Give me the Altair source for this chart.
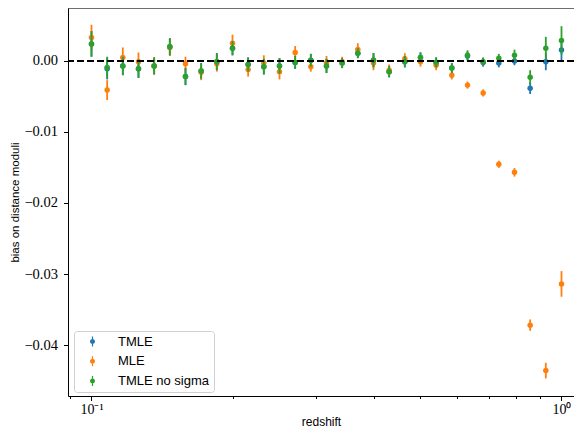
import altair as alt
import pandas as pd

# redshift bins (log-spaced)
redshift = [0.1, 0.10798, 0.11659, 0.12589, 0.13594, 0.14678, 0.15849, 0.17113,
            0.18478, 0.19953, 0.21544, 0.23263, 0.25119, 0.27123, 0.29286, 0.31623,
            0.34145, 0.36869, 0.39811, 0.42987, 0.46416, 0.50119, 0.54117, 0.58434,
            0.63096, 0.68129, 0.73564, 0.79433, 0.85770, 0.92611, 1.0]

tmle = [0.0024, -0.0011, -0.0007, -0.0011, -0.0007, 0.0020, -0.0022, -0.0014,
        -0.0001, 0.0018, -0.0005, -0.0008, -0.0007, -0.0002, 0.0001, -0.0007,
        -0.0003, 0.0011, 0.0001, -0.0015, -0.0001, 0.0005, -0.0002, -0.0010,
        0.0007, -0.0002, -0.0003, 0.0000, -0.00385, -0.0001, 0.00155]
tmle_err = [0.0018, 0.0015, 0.0013, 0.0013, 0.0012, 0.0012, 0.0012, 0.0011,
            0.0012, 0.0010, 0.0010, 0.0011, 0.0011, 0.0009, 0.0009, 0.0010,
            0.0007, 0.0007, 0.0010, 0.0008, 0.0008, 0.0007, 0.0007, 0.0007,
            0.0006, 0.0006, 0.0006, 0.0006, 0.0008, 0.0012, 0.0016]

mle = [0.0033, -0.0041, 0.0005, -0.0001, -0.0007, 0.0019, -0.0004, -0.0016,
       -0.0004, 0.0025, -0.0012, -0.0003, -0.0015, 0.0012, -0.0008, -0.0003,
       -0.0001, 0.0016, -0.0003, -0.0013, 0.0003, -0.0001, -0.0006, -0.0020,
       -0.0034, -0.0045, -0.01455, -0.01568, -0.0372, -0.0436, -0.0314]
mle_err = [0.0018, 0.0014, 0.0014, 0.0013, 0.0012, 0.0012, 0.0010, 0.0011,
           0.0011, 0.0012, 0.0010, 0.0011, 0.0011, 0.0009, 0.0007, 0.0010,
           0.0007, 0.0009, 0.0010, 0.0008, 0.0008, 0.0007, 0.0007, 0.0006,
           0.0005, 0.0005, 0.0005, 0.0006, 0.0008, 0.0011, 0.0018]

nosig = [0.0024, -0.0009, -0.0007, -0.0011, -0.0007, 0.0020, -0.0022, -0.0014,
         -0.0001, 0.0018, -0.0005, -0.0008, -0.0007, -0.0002, 0.0001, -0.0007,
         -0.0003, 0.0011, 0.0001, -0.0015, -0.0001, 0.0005, -0.0002, -0.0010,
         0.0008, -0.0001, 0.0004, 0.0008, -0.0023, 0.0018, 0.0029]
nosig_err = [0.0018, 0.0015, 0.0013, 0.0013, 0.0012, 0.0012, 0.0012, 0.0011,
             0.0012, 0.0010, 0.0010, 0.0011, 0.0011, 0.0009, 0.0009, 0.0010,
             0.0007, 0.0007, 0.0010, 0.0008, 0.0008, 0.0007, 0.0007, 0.0007,
             0.0007, 0.0006, 0.0006, 0.0008, 0.0010, 0.0016, 0.0020]

series_names = ["TMLE", "MLE", "TMLE no sigma"]
colors = ["#1f77b4", "#ff7f0e", "#2ca02c"]

x_ticks = [0.09, 0.1, 0.2, 0.3, 0.4, 0.5, 0.6, 0.7, 0.8, 0.9, 1.0]
y_ticks = [0.0, -0.01, -0.02, -0.03, -0.04]

rows = []
for name, vals, errs in zip(series_names, [tmle, mle, nosig], [tmle_err, mle_err, nosig_err]):
    for z, v, e in zip(redshift, vals, errs):
        rows.append({"series": name, "z": z, "bias": v, "lo": v - e, "hi": v + e})
df = pd.DataFrame(rows)

W, H = 506, 388
xscale = alt.Scale(type="log", domain=[0.08913, 1.0632], nice=False)
yscale = alt.Scale(domain=[-0.04718, 0.00746], nice=False, zero=False)

serif = "Liberation Serif"
sans = "Liberation Sans"

xaxis = alt.Axis(
    values=x_ticks,
    labelExpr="datum.value == 0.1 ? '10⁻¹' : (datum.value == 1 ? '10⁰' : '')",
    tickSize={"condition": {"test": "datum.value == 0.1 || datum.value == 1", "value": 4.5}, "value": 2.5},
    labelFont=serif, labelFontSize=14, labelPadding=2, labelColor="black",
    title="redshift", titleFont=sans, titleFontSize=12, titleFontWeight="normal",
    titleY=29.5, titleBaseline="alphabetic", titleColor="black",
    grid=False, domainColor="black", tickColor="black", labelFlush=False,
)
yaxis = alt.Axis(
    values=y_ticks,
    labelExpr="replace(format(datum.value, '.2f'), '-', '−')",
    tickSize=4.5, labelFont=serif, labelFontSize=14.5, labelPadding=6, labelColor="black",
    title="bias on distance moduli", titleFont=sans, titleFontSize=11.5,
    titleFontWeight="normal", titleX=-48, titleColor="black",
    grid=False, domainColor="black", tickColor="black",
)

sym = "M-0.12,-1H0.12V1H-0.12Z M0.5,0A0.5,0.5,0,1,1,-0.5,0A0.5,0.5,0,1,1,0.5,0Z"
legend = alt.Legend(
    title=None, orient="none", legendX=6, legendY=323,
    symbolType=sym, symbolSize=100, symbolStrokeWidth=0, symbolOpacity=1,
    labelFont=sans, labelFontSize=13, labelColor="black",
    labelOffset=19, symbolOffset=8, padding=4, rowPadding=5.7,
    strokeColor="#d0d0d0", fillColor="white", cornerRadius=3,
)

cscale = alt.Scale(domain=series_names, range=colors)

layers = []
for name in series_names:
    base = alt.Chart(df).transform_filter(alt.datum.series == name)
    rule = base.mark_rule(strokeWidth=1.8).encode(
        x=alt.X("z:Q", scale=xscale, axis=xaxis),
        y=alt.Y("lo:Q", scale=yscale, axis=yaxis),
        y2="hi:Q",
        color=alt.Color("series:N", scale=cscale, legend=legend),
    )
    pts = base.mark_point(filled=True, size=30, opacity=1).encode(
        x=alt.X("z:Q", scale=xscale, axis=xaxis),
        y=alt.Y("bias:Q", scale=yscale, axis=yaxis),
        color=alt.Color("series:N", scale=cscale, legend=legend),
    )
    layers += [rule, pts]

zero = alt.Chart(pd.DataFrame({"y": [0.0]})).mark_rule(
    color="black", strokeWidth=1.9, strokeDash=[7, 3]
).encode(y=alt.Y("y:Q", scale=yscale, axis=yaxis))

top = alt.Chart(pd.DataFrame({"a": [0]})).mark_rule(
    color="black", strokeWidth=1
).encode(y=alt.value(0))

chart = alt.layer(*layers, zero, top).properties(
    width=W, height=H,
    autosize=alt.AutoSizeParams(type="none"),
    padding={"left": 60, "top": 0, "right": 0, "bottom": 32},
).configure_view(stroke=None).configure(background="white")

chart.save("out.html", embed_options={"renderer": "svg", "actions": False})
